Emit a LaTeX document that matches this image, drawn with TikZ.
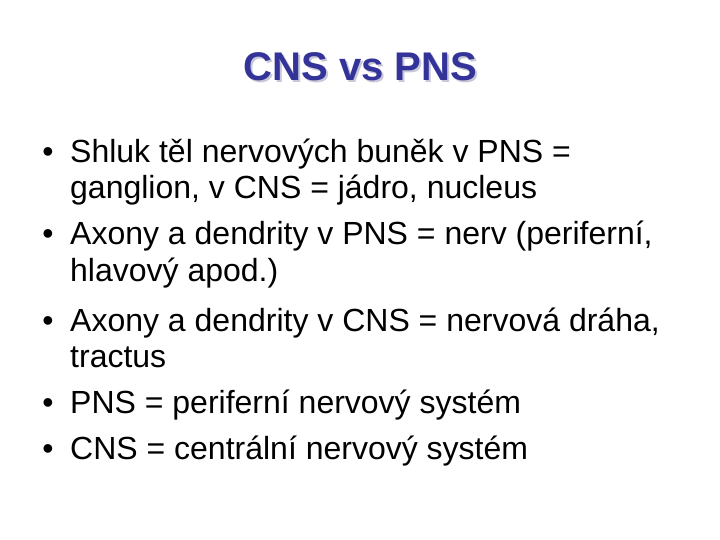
\documentclass[tikz,border=0pt]{standalone}
\usepackage{fontspec}
\setmainfont{Liberation Sans}
\definecolor{titleblue}{RGB}{51,51,153}
\definecolor{shadowgray}{RGB}{200,200,215}
\begin{document}
\begin{tikzpicture}[x=1pt,y=-1pt,
  txt/.style={anchor=base west,inner sep=0pt,font=\fontsize{32}{38}\selectfont},
  bul/.style={anchor=base,inner sep=0pt,font=\fontsize{32}{38}\selectfont}]
\useasboundingbox (0,0) rectangle (720,540);
\node[anchor=base,inner sep=0pt,font=\fontsize{40}{48}\selectfont\bfseries,text=shadowgray] (ts) at (362.5,82.5) {CNS vs PNS};
\node[anchor=base,inner sep=0pt,font=\fontsize{40}{48}\selectfont\bfseries,text=titleblue] (t) at (360.5,80.5) {CNS vs PNS};
\node[bul] (b1) at (48,163) {•};
\node[txt] (l1) at (70,163) {Shluk těl nervových buněk v PNS =};
\node[txt] (l2) at (70,199) {ganglion, v CNS = jádro, nucleus};
\node[bul] (b2) at (48,244) {•};
\node[txt] (l3) at (70,244) {Axony a dendrity v PNS = nerv (periferní,};
\node[txt] (l4) at (70,281) {hlavový apod.)};
\node[bul] (b3) at (48,331) {•};
\node[txt] (l5) at (70,331) {Axony a dendrity v CNS = nervová dráha,};
\node[txt] (l6) at (70,367) {tractus};
\node[bul] (b4) at (48,413) {•};
\node[txt] (l7) at (70,413) {PNS = periferní nervový systém};
\node[bul] (b5) at (48,459) {•};
\node[txt] (l8) at (70,459) {CNS = centrální nervový systém};
\end{tikzpicture}
\end{document}
